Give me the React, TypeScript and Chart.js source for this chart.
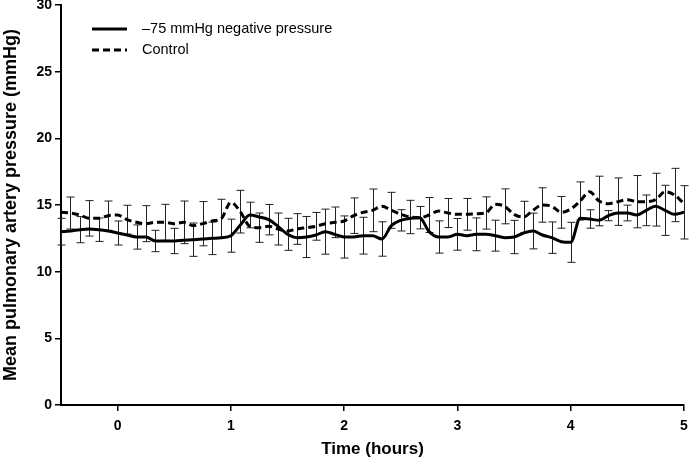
import React, { useEffect, useRef } from "react";
import { Chart, registerables } from "chart.js";

Chart.register(...registerables);

// Time points (minutes relative to start), every 5 min
const timeMin = [
  -30, -25, -20, -15, -10, -5, 0, 5, 10, 15, 20, 25, 30, 35, 40, 45, 50, 55,
  60, 65, 70, 75, 80, 85, 90, 95, 100, 105, 110, 115, 120, 125, 130, 135, 140,
  145, 150, 155, 160, 165, 170, 175, 180, 185, 190, 195, 200, 205, 210, 215,
  220, 225, 230, 235, 240, 245, 250, 255, 260, 265, 270, 275, 280, 285, 290,
  295, 300,
];

const negativePressure = [
  13.0, 13.05, 13.15, 13.2, 13.15, 13.05, 12.9, 12.75, 12.6, 12.6, 12.3, 12.3,
  12.3, 12.35, 12.4, 12.45, 12.5, 12.55, 12.7, 13.5, 14.25, 14.1, 13.9, 13.4,
  12.8, 12.55, 12.6, 12.75, 13.0, 12.8, 12.6, 12.6, 12.7, 12.7, 12.45, 13.45,
  13.85, 14.0, 14.05, 13.0, 12.6, 12.6, 12.8, 12.7, 12.8, 12.8, 12.7, 12.55,
  12.6, 12.9, 13.05, 12.75, 12.55, 12.25, 12.2, 14.0, 13.95, 13.85, 14.2, 14.4,
  14.4, 14.25, 14.6, 14.9, 14.6, 14.3, 14.45,
];

const control = [
  14.45, 14.4, 14.25, 14.0, 14.0, 14.2, 14.25, 13.9, 13.7, 13.6, 13.7, 13.7,
  13.6, 13.7, 13.45, 13.6, 13.8, 14.0, 15.2, 14.5, 13.4, 13.3, 13.4, 13.2,
  13.05, 13.2, 13.3, 13.4, 13.6, 13.7, 13.8, 14.2, 14.45, 14.6, 14.9, 14.6,
  14.3, 14.1, 14.05, 14.25, 14.55, 14.4, 14.3, 14.3, 14.35, 14.4, 15.05, 14.9,
  14.3, 14.1, 14.6, 15.0, 14.9, 14.45, 14.7, 15.3, 16.0, 15.3, 15.1, 15.25,
  15.4, 15.25, 15.25, 15.4, 16.0, 15.75, 15.1,
];

const negativeSD = [
  1.0, null, 0.98, null, 0.88, null, 0.9, null, 0.91, null, 0.8, null, 0.95,
  null, 1.25, null, 1.22, null, 1.24, null, 0.96, null, 1.14, null, 1.2, null,
  1.54, null, 1.69, null, 1.58, null, 1.38, null, 1.29, null, 0.8, null, 0.84,
  null, 1.21, null, 1.19, null, 1.23, null, 1.16, null, 1.25, null, 1.34, null,
  1.18, null, 1.5, null, 0.69, null, 0.38, null, 0.59, null, 1.15, null, 1.88,
  null, 2.0,
];

const controlSD = [
  null, 1.2, null, 1.33, null, 1.1, null, 1.08, null, 1.35, null, 1.35, null,
  1.6, null, 1.66, null, 1.43, null, 1.6, null, 1.1, null, 1.2, null, 1.15,
  null, 1.04, null, 1.15, null, 1.33, null, 1.6, null, 1.35, null, 1.25, null,
  1.31, null, 1.09, null, 1.19, null, 1.21, null, 1.31, null, 1.18, null, 1.29,
  null, 1.19, null, 1.43, null, 1.86, null, 1.78, null, 1.96, null, 1.98, null,
  2.0, null,
];

const xTicks = [0, 1, 2, 3, 4, 5];
const seriesLabels = ["\u201375 mmHg negative pressure", "Control"];

const FONT = "'Liberation Sans', Arial, Helvetica, sans-serif";

const errorBarPlugin = {
  id: "errorBars",
  beforeDatasetsDraw(chart: any) {
    const ctx = chart.ctx;
    const yScale = chart.scales.y;
    ctx.save();
    ctx.strokeStyle = "#222";
    ctx.lineWidth = 1;
    chart.data.datasets.forEach((ds: any, di: number) => {
      const sd = ds.sd as (number | null)[];
      if (!sd) return;
      const meta = chart.getDatasetMeta(di);
      meta.data.forEach((pt: any, i: number) => {
        const s = sd[i];
        if (s == null) return;
        const v = ds.data[i].y;
        const x = Math.round(pt.x) + 0.5;
        const yt = yScale.getPixelForValue(v + s);
        const yb = yScale.getPixelForValue(v - s);
        ctx.beginPath();
        ctx.moveTo(x, yt);
        ctx.lineTo(x, yb);
        ctx.moveTo(x - 4, yt);
        ctx.lineTo(x + 4, yt);
        ctx.moveTo(x - 4, yb);
        ctx.lineTo(x + 4, yb);
        ctx.stroke();
      });
    });
    ctx.restore();
  },
};

const legendPlugin = {
  id: "insideLegend",
  afterDatasetsDraw(chart: any) {
    const ctx = chart.ctx;
    const area = chart.chartArea;
    const x0 = area.left + 31;
    const rows = [area.top + 24, area.top + 45];
    ctx.save();
    chart.data.datasets.forEach((ds: any, i: number) => {
      const y = rows[i];
      ctx.beginPath();
      ctx.strokeStyle = "#000";
      ctx.lineWidth = 3;
      ctx.setLineDash(ds.borderDash || []);
      ctx.moveTo(x0, y);
      ctx.lineTo(x0 + 35, y);
      ctx.stroke();
      ctx.setLineDash([]);
      ctx.fillStyle = "#000";
      ctx.font = `14.5px ${FONT}`;
      ctx.textBaseline = "middle";
      ctx.textAlign = "left";
      ctx.fillText(ds.label, x0 + 50, y);
    });
    ctx.restore();
  },
};

export default function App() {
  const canvasRef = useRef<HTMLCanvasElement | null>(null);

  useEffect(() => {
    if (!canvasRef.current) return;
    const hours = timeMin.map((m) => m / 60);
    const chart = new Chart(canvasRef.current, {
      type: "line",
      data: {
        datasets: [
          {
            label: seriesLabels[0],
            data: hours.map((h, i) => ({ x: h, y: negativePressure[i] })),
            borderColor: "#000",
            borderWidth: 3,
            pointRadius: 0,
            cubicInterpolationMode: "monotone",
            fill: false,
            sd: negativeSD,
          } as any,
          {
            label: seriesLabels[1],
            data: hours.map((h, i) => ({ x: h, y: control[i] })),
            borderColor: "#000",
            borderWidth: 3,
            borderDash: [7, 4],
            pointRadius: 0,
            cubicInterpolationMode: "monotone",
            fill: false,
            sd: controlSD,
          } as any,
        ],
      },
      options: {
        responsive: false,
        animation: false,
        layout: { padding: { top: 5, right: 5, left: 0, bottom: 0 } },
        plugins: {
          legend: { display: false },
          tooltip: { enabled: false },
        },
        scales: {
          x: {
            type: "linear",
            min: -0.5,
            max: 5,
            afterBuildTicks: (scale: any) => {
              scale.ticks = xTicks.map((v) => ({ value: v }));
            },
            afterFit: (scale: any) => {
              scale.height = 56;
              scale.paddingLeft = 0;
              scale.paddingRight = 0;
            },
            ticks: {
              color: "#000",
              font: { family: FONT, size: 14, weight: "bold" },
              padding: 7,
              maxRotation: 0,
            },
            grid: {
              drawOnChartArea: false,
              drawTicks: true,
              tickLength: 6,
              color: "#000",
              lineWidth: 1.5,
            },
            border: { display: true, color: "#000", width: 2 },
            title: {
              display: true,
              text: "Time (hours)",
              color: "#000",
              font: { family: FONT, size: 17, weight: "bold" },
              padding: { top: 0, bottom: 1 },
            },
          },
          y: {
            min: 0,
            max: 30,
            ticks: {
              stepSize: 5,
              color: "#000",
              font: { family: FONT, size: 14, weight: "bold" },
              padding: 3,
            },
            afterFit: (scale: any) => {
              scale.width = 61;
              scale.paddingTop = 0;
              scale.paddingBottom = 0;
            },
            grid: {
              drawOnChartArea: false,
              drawTicks: true,
              tickLength: 6,
              color: "#000",
              lineWidth: 1.5,
            },
            border: { display: true, color: "#000", width: 2 },
            title: {
              display: true,
              text: "Mean pulmonary artery pressure (mmHg)",
              color: "#000",
              font: { family: FONT, size: 18, weight: "bold" },
              padding: { top: 0, bottom: 2 },
            },
          },
        },
      },
      plugins: [errorBarPlugin, legendPlugin],
    });
    return () => chart.destroy();
  }, []);

  return (
    <div style={{ position: "absolute", left: 0, top: 0, width: 689, height: 461, background: "#fff" }}>
      <canvas ref={canvasRef} width={689} height={461} style={{ display: "block" }} />
    </div>
  );
}
